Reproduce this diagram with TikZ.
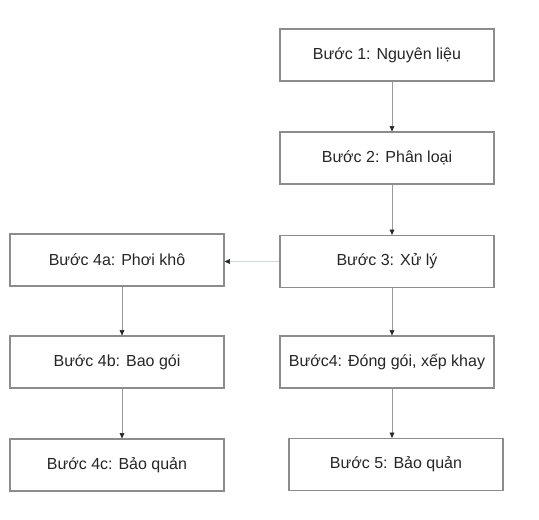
\documentclass[tikz,border=0pt]{standalone}
\usepackage{fontspec}
\setmainfont{Liberation Sans}
\usetikzlibrary{arrows.meta,positioning}

\begin{document}
\begin{tikzpicture}[
  x=0.75pt, y=-0.75pt,
  font=\fontsize{12}{14}\selectfont,
  stepbox/.style={rectangle, draw=black!45, line width=0.9pt, fill=white,
                  minimum width=160.5pt, minimum height=39pt, inner sep=1pt,
                  align=center, text=black!85},
  flow/.style={-{Triangle[length=4pt,width=3.6pt,color=black!85]}, line width=0.5pt, draw=black!40},
  side/.style={-{Triangle[length=4pt,width=3.6pt,color=black!85]}, line width=0.5pt, draw=cyan!25!black!20},
]
\useasboundingbox (0,0) rectangle (539,519);

% right column carries the main line, left column the side branch
\def\colR{387}
\def\colL{117}
\def\rowA{55}
\def\rowB{158}
\def\rowC{261.5}
\def\rowD{362}
\def\rowE{464.5}

\node[stepbox] (s1) at (\colR,\rowA) {Bước 1: Nguyên liệu};
\node[stepbox] (s2) at (\colR,\rowB) {Bước 2: Phân loại};
\node[stepbox] (s3) at (\colR,\rowC) {Bước 3: Xử lý};
\node[stepbox] (s4) at (\colR,\rowD) {Bước4: Đóng gói, xếp khay};
\node[stepbox] (s5) at (396,\rowE) {Bước 5: Bảo quản};

\node[stepbox] (s4a) at (\colL,260) {Bước 4a: Phơi khô};
\node[stepbox] (s4b) at (\colL,\rowD) {Bước 4b: Bao gói};
\node[stepbox] (s4c) at (\colL,465) {Bước 4c: Bảo quản};

% arrows sit a little right of the box centres
\foreach \a/\b in {s1/s2, s2/s3, s3/s4, s4/s5, s4a/s4b, s4b/s4c}
  \draw[flow] ([xshift=3.75pt]\a.south) -- ([xshift=3.75pt]\a.south |- \b.north);

\draw[side] (s3.west) -- (s3.west -| s4a.east);

\end{tikzpicture}
\end{document}
